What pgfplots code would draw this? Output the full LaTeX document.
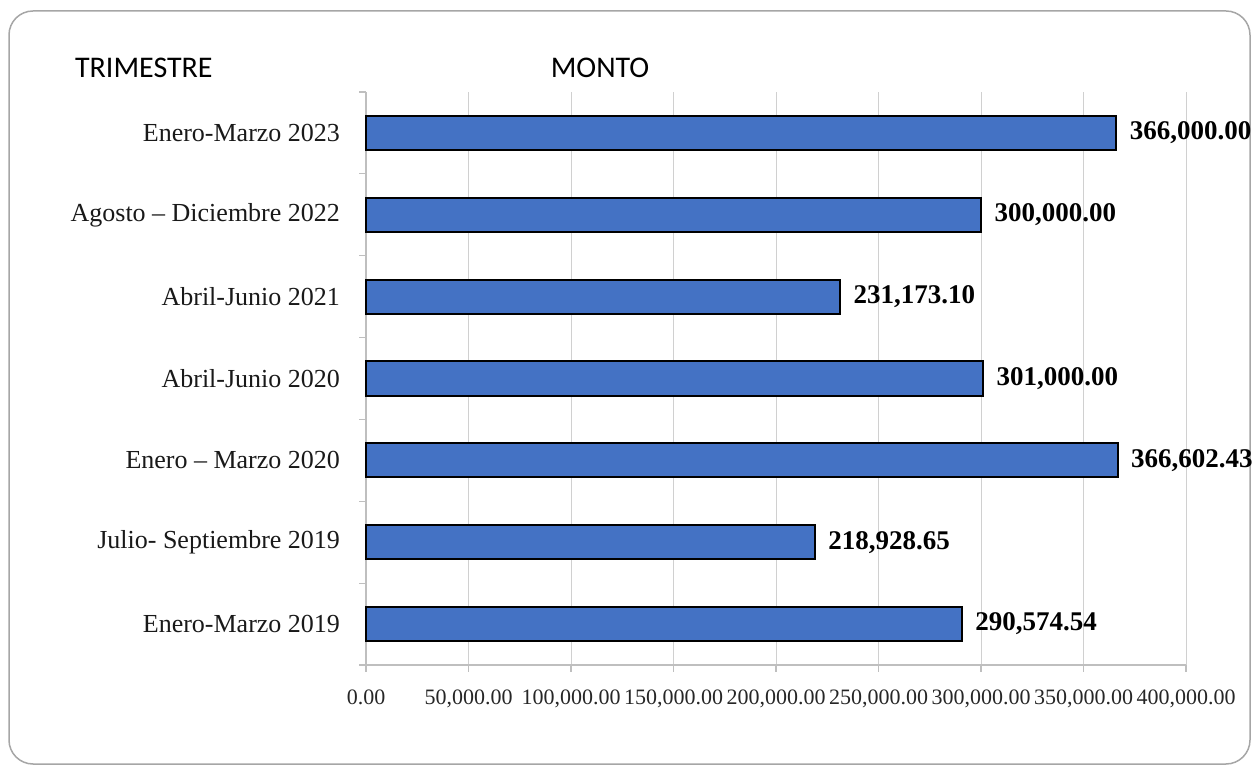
\documentclass[border=0pt]{standalone}
\usepackage{pgfplots}
\pgfplotsset{compat=1.18}
\usepackage{pgfplotstable}
\usepackage{fontspec}
\setmainfont{Liberation Serif}
\newfontfamily\calibri{Carlito}
\definecolor{barblue}{HTML}{4472C4}
\definecolor{gridgray}{HTML}{D0D0D0}
\definecolor{axgray}{HTML}{BFBFBF}
\definecolor{framegray}{HTML}{A6A6A6}

% y = posicion de la categoria (0 abajo), x = monto
\pgfplotstableread{
y x label
0 290574.54 290,574.54
1 218928.65 218,928.65
2 366602.43 366,602.43
3 301000.00 301,000.00
4 231173.10 231,173.10
5 300000.00 300,000.00
6 366000.00 366,000.00
}\montos

\begin{document}
\begin{tikzpicture}
\useasboundingbox (0,0) rectangle (626bp,383bp);
\draw[framegray, line width=0.75bp, rounded corners=12bp] (4.5bp,1bp) rectangle (625bp,377.5bp);
\node[anchor=west, font=\calibri\fontsize{15bp}{18bp}\selectfont] at (34bp,349bp) {TRIMESTRE};
\node[font=\calibri\fontsize{15bp}{18bp}\selectfont] at (300bp,349bp) {MONTO};
\begin{axis}[
  at={(183bp,50.5bp)}, anchor=south west,
  scale only axis,
  width=410bp, height=286.5bp,
  xbar, bar width=17bp,
  xmin=0, xmax=400000,
  ymin=-0.5, ymax=6.5,
  xtick={0,50000,...,400000},
  ytick={0,...,6},
  yticklabels={Enero-Marzo 2019, Julio- Septiembre 2019, Enero – Marzo 2020, Abril-Junio 2020, Abril-Junio 2021, Agosto – Diciembre 2022, Enero-Marzo 2023},
  minor ytick={-0.5,0.5,...,6.5},
  axis x line*=bottom, axis y line*=left,
  axis line style={axgray, line width=0.6bp},
  xmajorgrids, grid style={gridgray, line width=0.5bp},
  tick align=outside, major tick length=3.5bp, minor tick length=3.5bp,
  major y tick style={draw=none},
  minor y tick style={axgray, line width=0.6bp},
  major x tick style={axgray, line width=0.6bp},
  scaled x ticks=false,
  /pgf/number format/assume math mode=true,
  xticklabel={\pgfmathprintnumber[fixed,fixed zerofill,precision=2,1000 sep={,}]{\tick}},
  xticklabel style={font=\fontsize{11bp}{13bp}\selectfont, color=black!85, yshift=-5.5bp},
  yticklabel style={font=\fontsize{13bp}{15bp}\selectfont, color=black!90, xshift=-6bp},
  clip=false,
  point meta=explicit symbolic,
  nodes near coords,
  nodes near coords style={anchor=west, xshift=3bp, font=\bfseries\fontsize{13.5bp}{16bp}\selectfont, black},
]
\addplot[fill=barblue, draw=black, line width=1bp] table[x=x, y=y, meta=label] {\montos};
\end{axis}
\end{tikzpicture}
\end{document}
